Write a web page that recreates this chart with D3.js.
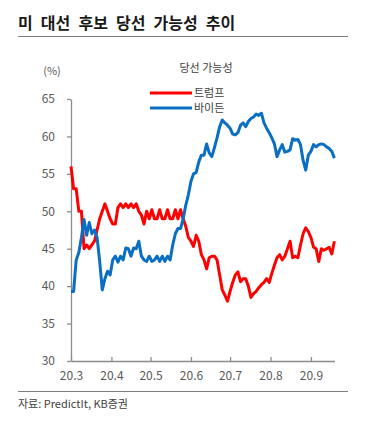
<!DOCTYPE html>
<html>
<head>
<meta charset="utf-8">
<script src="https://cdn.jsdelivr.net/npm/d3@7"></script>
<style>
  body { margin: 0; background: #fff; }
  svg { display: block; font-family: "Noto Sans CJK KR", "Noto Sans", sans-serif; }
</style>
</head>
<body>
<div id="chart"></div>
<script>
const width = 367
const height = 425

// every second day, 2020-03-01 .. 2020-09-19
const dates = [
  "03-01","03-03","03-05","03-07","03-09","03-11","03-13","03-15","03-17","03-19","03-21","03-23","03-25","03-27","03-29","03-31",
  "04-02","04-04","04-06","04-08","04-10","04-12","04-14","04-16","04-18","04-20","04-22","04-24","04-26","04-28","04-30",
  "05-02","05-04","05-06","05-08","05-10","05-12","05-14","05-16","05-18","05-20","05-22","05-24","05-26","05-28","05-30",
  "06-01","06-03","06-05","06-07","06-09","06-11","06-13","06-15","06-17","06-19","06-21","06-23","06-25","06-27","06-29",
  "07-01","07-03","07-05","07-07","07-09","07-11","07-13","07-15","07-17","07-19","07-21","07-23","07-25","07-27","07-29","07-31",
  "08-02","08-04","08-06","08-08","08-10","08-12","08-14","08-16","08-18","08-20","08-22","08-24","08-26","08-28","08-30",
  "09-01","09-03","09-05","09-07","09-09","09-11","09-13","09-15","09-17","09-19"
]

const trump = [
  56, 53, 53, 50, 50, 45, 45.5, 45, 45.5, 46, 47.5, 49, 50, 51, 50, 49,
  48.3, 48.3, 50.5, 51, 50.5, 51, 50.5, 51, 50.5, 51, 50, 49.5, 48.3, 50, 49,
  50.2, 49, 49, 50.2, 49, 49, 50.2, 49, 49, 50.2, 49, 50.2, 49, 48, 46.5,
  46, 45.3, 46.8, 46, 44.2, 43.5, 42.3, 43.8, 44, 44, 43.5, 41.5, 39.5, 38.8, 38,
  39.3, 40.5, 41.5, 41.9, 40.6, 41, 41, 40, 38.5, 39, 39.3, 39.8, 40.2, 40.5, 41, 40.5,
  41.7, 42.8, 43.8, 44.2, 43.5, 44, 45, 46, 43.8, 44, 43.8, 45.5, 47, 47.8, 47.3,
  46.5, 45.2, 45, 43.3, 45, 44.8, 45, 45.2, 44.3, 46
]

const biden = [
  39.3, 39.3, 43.5, 44.5, 46.5, 48.9, 46.8, 48.5, 47, 47.5, 46.5, 43.3, 39.5, 41, 42, 41.5,
  43.5, 44, 43.2, 44, 43.5, 45.1, 45, 44, 45.1, 45, 46, 44, 43.5, 43.3, 44,
  43.3, 43.5, 44, 43.3, 44, 43.3, 44, 43.5, 45.5, 47, 47.7, 47.7, 49, 50.8, 52.2,
  54, 55, 55.2, 56.6, 57.5, 57.5, 59, 57.8, 57.3, 58.5, 59.8, 61.3, 62.2, 61.8, 61.5,
  61.1, 60.3, 60.2, 60.5, 61.5, 61.8, 61.3, 62, 62.4, 62.6, 63, 62.8, 63.1, 61.8, 61.1, 60.5,
  59.8, 59, 57.3, 58.2, 58.9, 57.9, 58, 58.2, 59.7, 59.5, 59.6, 58.9, 56.8, 55.5, 57.5,
  58, 58.9, 58.6, 58.9, 59, 58.9, 58.6, 58.4, 58, 57.1
]

const seriesNames = ["트럼프", "바이든"]
const seriesColors = ["#ff0000", "#0a6ec2"]
const yTicks = [30, 35, 40, 45, 50, 55, 60, 65]

const parseDate = d3.timeParse("%Y-%m-%d")
const days = dates.map(d => parseDate("2020-" + d))

const svg = d3.create("svg")
    .attr("width", width)
    .attr("height", height)
    .attr("viewBox", [0, 0, width, height])

d3.select("#chart").append(() => svg.node())

const x = d3.scaleTime()
  .domain([days[0], days[days.length - 1]])
  .range([71, 334.4])

const y = d3.scaleLinear()
  .domain([30, 65])
  .range([361, 99])

// title
svg.append("text")
    .attr("x", 18)
    .attr("y", 29)
    .attr("font-size", "16px")
    .attr("font-weight", "bold")
    .attr("word-spacing", "4.5px")
    .attr("fill", "#1a1a1a")
    .text("미 대선 후보 당선 가능성 추이")

svg.append("line")
    .attr("x1", 18).attr("x2", 348)
    .attr("y1", 36.5).attr("y2", 36.5)
    .attr("stroke", "#7f7f7f")
    .attr("stroke-width", 1)

// axes
const xAxis = svg.append("g")
    .attr("transform", `translate(0,${y(30)})`)
    .call(d3.axisBottom(x)
      .tickValues(d3.timeMonth.range(new Date(2020, 2, 1), new Date(2020, 8, 2)))
      .tickFormat(d3.timeFormat("%y.%-m"))
      .tickSizeInner(-4)
      .tickSizeOuter(0)
      .tickPadding(10))

const yAxis = svg.append("g")
    .attr("transform", `translate(${x(days[0])},0)`)
    .call(d3.axisLeft(y)
      .tickValues(yTicks)
      .tickSizeInner(4)
      .tickSizeOuter(0)
      .tickPadding(12))

for (const g of [xAxis, yAxis]) {
  g.select(".domain").attr("stroke", "#8c8c8c").attr("stroke-width", 1.3)
  g.selectAll(".tick line").attr("stroke", "#8c8c8c").attr("stroke-width", 1.3)
  g.selectAll(".tick text")
    .attr("fill", "#595959")
    .attr("font-size", "12px")
    .attr("font-family", "\"Noto Sans CJK KR\", sans-serif")
}

svg.append("text")
    .attr("x", 52)
    .attr("y", 75)
    .attr("text-anchor", "middle")
    .attr("font-size", "11px")
    .attr("fill", "#595959")
    .text("(%)")

// lines
const line = d3.line()
  .x((d, i) => x(days[i]))
  .y(d => y(d))

const content = svg.append("g")

;[trump, biden].forEach((values, k) => {
  content.append("path")
      .datum(values)
      .attr("fill", "none")
      .attr("stroke", seriesColors[k])
      .attr("stroke-width", 3)
      .attr("stroke-linejoin", "round")
      .attr("d", line)
})

// legend
svg.append("text")
    .attr("x", 206)
    .attr("y", 72)
    .attr("text-anchor", "middle")
    .attr("font-size", "11px")
    .attr("fill", "#404040")
    .text("당선 가능성")

const legend = svg.append("g")
  .selectAll("g")
  .data(seriesNames)
  .join("g")
    .attr("transform", (d, i) => `translate(150,${93 + i * 15})`)

legend.append("line")
    .attr("x1", 0).attr("x2", 42)
    .attr("stroke", (d, i) => seriesColors[i])
    .attr("stroke-width", 3)

legend.append("text")
    .attr("x", 44)
    .attr("dy", "0.35em")
    .attr("font-size", "11px")
    .attr("fill", "#404040")
    .text(d => d)

// footer
svg.append("line")
    .attr("x1", 18).attr("x2", 348)
    .attr("y1", 391.5).attr("y2", 391.5)
    .attr("stroke", "#7f7f7f")
    .attr("stroke-width", 1)

svg.append("text")
    .attr("x", 18)
    .attr("y", 408)
    .attr("font-size", "11px")
    .attr("fill", "#404040")
    .text("자료: PredictIt, KB증권")
</script>
</body>
</html>
